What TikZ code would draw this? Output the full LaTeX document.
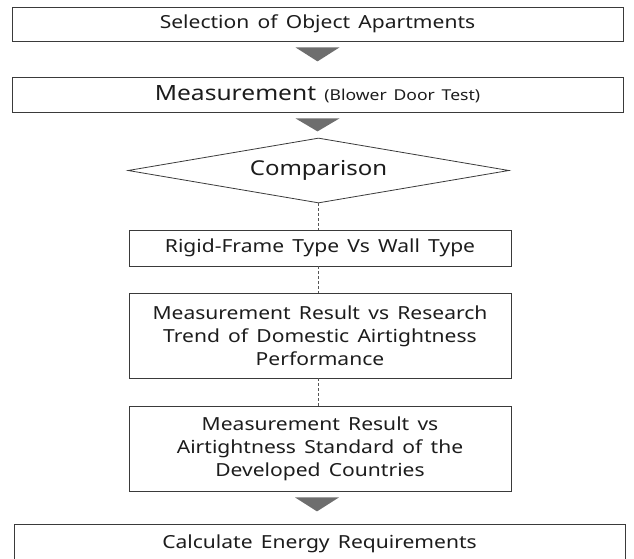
\documentclass[tikz,border=0pt]{standalone}
\usepackage{fontspec}
\setmainfont{Noto Sans}[WordSpace={1.5}, FakeStretch=1.17]
\usetikzlibrary{shapes.geometric,calc}
\definecolor{linec}{HTML}{3A3A3A}
\definecolor{trif}{HTML}{6E6E6E}
\definecolor{txt}{HTML}{1C1C1C}
\definecolor{dashc}{HTML}{555555}
\begin{document}
\begin{tikzpicture}[x=1pt,y=-1pt,
  box/.style={draw=linec, line width=0.8pt, text=txt, inner sep=0pt, align=center, font=\fontsize{18}{23}\selectfont},
  wide/.style={box, minimum width=611pt, minimum height=34pt},
  narrow/.style={box, minimum width=382pt},
  dia/.style={draw=linec, line width=0.8pt, text=txt, diamond, aspect=5.8, inner sep=0pt, minimum width=381pt, minimum height=65pt, font=\fontsize{20.5}{24}\selectfont},
  link/.style={draw=dashc, line width=0.6pt, dash pattern=on 3pt off 2pt},
  tri/.style={fill=trif}]
\useasboundingbox (0,0) rectangle (634,559);
\clip (0,0) rectangle (634,559);
\node[wide] (b1) at (317.5,24) {Selection of Object Apartments};
\node[wide, minimum height=35pt] (b2) at (317.5,94.5) {{\fontsize{21}{24}\selectfont Measurement} {\fontsize{15}{18}\selectfont(Blower Door Test)}};
\node[dia] (d) at (318.5,170.5) {Comparison};
\node[narrow, minimum height=36pt] (b3) at (320,248) {Rigid-Frame Type Vs Wall Type};
\node[narrow, minimum height=85pt] (b4) at (320,335.5) {Measurement Result vs Research\\Trend of Domestic Airtightness\\Performance};
\node[narrow, minimum height=85pt] (b5) at (320,448.5) {Measurement Result vs\\Airtightness Standard of the\\Developed Countries};
\node[box, minimum width=611pt, minimum height=40pt] (b6) at (319.5,544) {\raisebox{3pt}{Calculate Energy Requirements}};
% arrows
\fill[tri] ($(b1.south)+(-22,6)$) -- ($(b1.south)+(22,6)$) -- ($(b1.south)+(0,20)$) -- cycle;
\fill[tri] ($(b2.south)+(-22,6)$) -- ($(b2.south)+(22,6)$) -- ($(b2.south)+(0,19)$) -- cycle;
\fill[tri] ($(b5.south)+(-25,6)$) -- ($(b5.south)+(19,6)$) -- ($(b5.south)+(-3,20)$) -- cycle;
% dashed links
\draw[link] (d.south) -- (d.south |- b3.north);
\draw[link] (d.south |- b3.south) -- (d.south |- b4.north);
\draw[link] (d.south |- b4.south) -- (d.south |- b5.north);
\end{tikzpicture}
\end{document}
